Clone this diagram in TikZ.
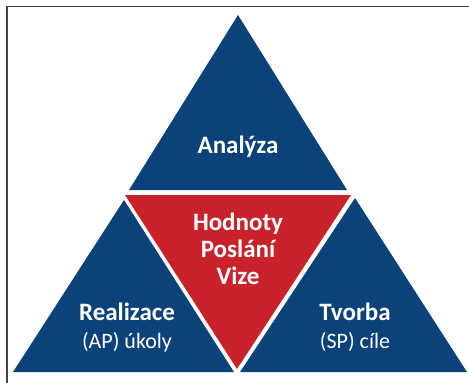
\documentclass[tikz,border=0pt]{standalone}
\usepackage{fontspec}
\setmainfont{Carlito}
\definecolor{triblue}{RGB}{12,66,122}
\definecolor{trired}{RGB}{200,35,43}
\definecolor{framegray}{RGB}{64,64,64}
\tikzset{
bluetri/.style = {fill=triblue},
redtri/.style = {fill=trired},
title/.style = {text=white, align=center, anchor=base, font=\fontsize{25}{27}\selectfont\bfseries, inner sep=0pt},
subtitle/.style = {text=white, align=center, anchor=base, font=\fontsize{22}{27}\selectfont, inner sep=0pt}
}
\begin{document}
\begin{tikzpicture}[x=1pt, y=-1pt]
    \useasboundingbox (0,0) rectangle (469,383);
    % frame
    \draw [framegray, line width=1.5pt] (7,383) -- (7,6.5) -- (469,6.5);

    % triangles
    \fill [bluetri] (238,15) -- (129,190) -- (347,190) -- cycle;
    \fill [redtri] (125,195) -- (351,195) -- (237,369) -- cycle;
    \fill [bluetri] (124,200) -- (13,372) -- (234,372) -- cycle;
    \fill [bluetri] (355,198) -- (240,372) -- (467,372) -- cycle;

    % texts
    \node [title] (analyza) at (238,153) {Analýza};
    \node [title] (hodnoty) at (238,230) {Hodnoty};
    \node [title] (poslani) at (238,257) {Poslání};
    \node [title] (vize) at (238,284) {Vize};
    \node [title] (realizace) at (127,320) {Realizace};
    \node [subtitle] (ukoly) at (127,348) {(AP) úkoly};
    \node [title] (tvorba) at (355,320) {Tvorba};
    \node [subtitle] (cile) at (355,348) {(SP) cíle};
\end{tikzpicture}
\end{document}
